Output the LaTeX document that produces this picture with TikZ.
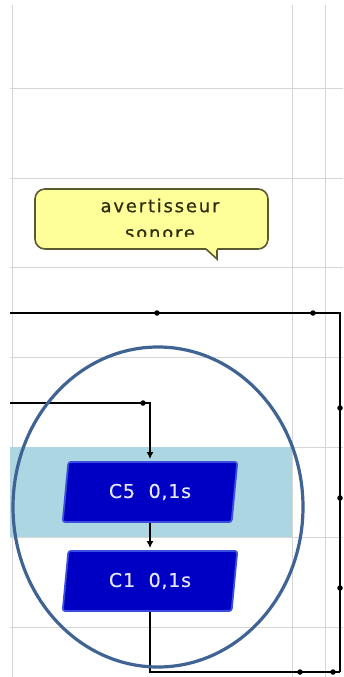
\documentclass[tikz,border=0pt]{standalone}
\usepackage{fontspec}
\setmainfont{DejaVu Sans}
\newfontfamily\notefont[LetterSpace=10,FakeBold=0.6]{DejaVu Sans}
\newfontfamily\boxfont[LetterSpace=4,FakeBold=0.4]{DejaVu Sans}
\usetikzlibrary{shapes.geometric,arrows.meta}
\definecolor{gridc}{HTML}{D6D6D6}
\definecolor{bandc}{HTML}{ABD6E2}
\definecolor{boxfill}{HTML}{0000C4}
\definecolor{boxedge}{HTML}{3A4EE0}
\definecolor{boxtext}{HTML}{E6E6FF}
\definecolor{notefill}{HTML}{FFFF99}
\definecolor{noteedge}{HTML}{5A5A30}
\definecolor{notetext}{HTML}{2E2E0E}
\definecolor{ringc}{HTML}{3F6392}
\tikzset{
  gridline/.style={draw=gridc, line width=1pt},
  wire/.style={draw=black, line width=1.6pt},
  arrowwire/.style={wire, -{Latex[length=7pt,width=7pt]}},
  jdot/.style={circle, fill=black, inner sep=0pt, minimum size=5.5pt},
  stepbox/.style={trapezium, trapezium left angle=80, trapezium right angle=100,
    trapezium stretches=true, minimum width=176pt, minimum height=60pt,
    fill=boxfill, draw=boxedge, line width=1.8pt, rounded corners=2.5pt,
    text=boxtext, font=\boxfont\fontsize{19}{22}\selectfont, inner sep=0pt},
  notebox/.style={rectangle, rounded corners=10pt, fill=notefill, draw=noteedge,
    line width=1.6pt, minimum width=233pt, minimum height=60pt},
  notetxt/.style={align=center, text=notetext, font=\notefont\fontsize{18}{27}\selectfont, inner sep=0pt},
  ring/.style={draw=ringc, line width=3.2pt}
}
\begin{document}
\begin{tikzpicture}[x=1pt,y=-1pt]
\useasboundingbox (0,0) rectangle (343,677);
% grid
\foreach \gy in {88,178,267,357,447,537,627} \draw[gridline] (10,\gy) -- (343,\gy);
\foreach \gx in {12,292,325} \draw[gridline] (\gx,5) -- (\gx,677);
% highlighted band
\fill[bandc] (10,447) rectangle (292,537);
% callout
\node[notebox] (note) at (151.5,219) {};
\fill[notefill] (205,247) -- (217,259) -- (217,247) -- cycle;
\draw[draw=noteedge, line width=1.6pt] (206.5,249.5) -- (217,259) -- (217,249.5);
\begin{scope}
  \clip (35,190) rectangle (268,236.5);
  \node[notetxt] (notetext) at (160,219) {avertisseur\\sonore};
\end{scope}
% steps
\node[stepbox] (c5) at (150,492) {C5\ \ 0,1s};
\node[stepbox] (c1) at (150,581) {C1\ \ 0,1s};
% connector coordinates
\coordinate (topL) at (10,313);
\coordinate (topR) at (340,313);
\coordinate (inL) at (10,403);
\coordinate (inC) at (150,403);
\coordinate (botR) at (340,672);
% connectors
\draw[wire] (topL) -- (topR) -- (botR);
\draw[arrowwire] (inL) -- (inC) -- ([yshift=2pt]c5.north);
\draw[arrowwire] (c5.south) -- ([yshift=2pt]c1.north);
\draw[wire] (c1.south) |- (botR);
% junction dots
\node[jdot] (d1) at (157,313) {};
\node[jdot] (d2) at (313,313) {};
\node[jdot] (d3) at (143,403) {};
\node[jdot] (d4) at (340,408) {};
\node[jdot] (d5) at (340,498) {};
\node[jdot] (d6) at (340,588) {};
\node[jdot] (d7) at (300,672) {};
\node[jdot] (d8) at (333,672) {};
% ring
\draw[ring] (158,507) ellipse [x radius=145, y radius=160];
\end{tikzpicture}
\end{document}
